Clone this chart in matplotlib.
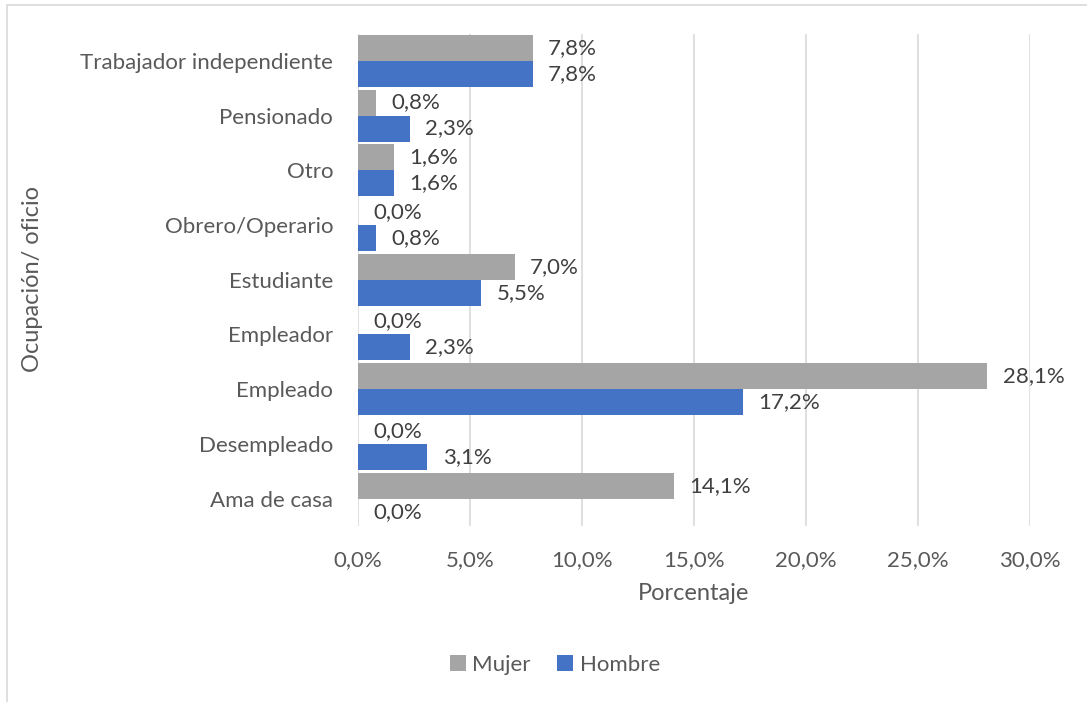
import matplotlib.pyplot as plt
import matplotlib.patches as mpatches
import numpy as np

categories = ['Ama de casa', 'Desempleado', 'Empleado', 'Empleador', 'Estudiante',
              'Obrero/Operario', 'Otro', 'Pensionado', 'Trabajador independiente']
mujer = [14.1, 0.0, 28.1, 0.0, 7.0, 0.0, 1.6, 0.8, 7.8]
hombre = [0.0, 3.1, 17.2, 2.3, 5.5, 0.8, 1.6, 2.3, 7.8]
xticks = [0, 5, 10, 15, 20, 25, 30]

plt.rcParams['font.family'] = ['Lato', 'DejaVu Sans']
text_col = '#595959'

W, H = 1087, 702
fig = plt.figure(figsize=(W / 100, H / 100), dpi=100)
ax = fig.add_axes([358 / W, 1 - 526 / H, (1030 - 358) / W, (526 - 33.5) / H])

y = np.arange(len(categories))
h = 0.475
ax.barh(y + h / 2, mujer, height=h, color='#A5A5A5', label='Mujer', zorder=3)
ax.barh(y - h / 2, hombre, height=h, color='#4472C4', label='Hombre', zorder=3)

# value labels
for i in range(len(categories)):
    ax.annotate(f'{mujer[i]:.1f}%'.replace('.', ','), (mujer[i], y[i] + h / 2),
                xytext=(11, 0), textcoords='offset points', va='center', ha='left',
                fontsize=16, color='#404040')
    ax.annotate(f'{hombre[i]:.1f}%'.replace('.', ','), (hombre[i], y[i] - h / 2),
                xytext=(11, 0), textcoords='offset points', va='center', ha='left',
                fontsize=16, color='#404040')

ax.set_xlim(0, 30)
ax.set_ylim(-0.5, len(categories) - 0.5)
ax.set_xticks(xticks)
ax.set_xticklabels([f'{t:.1f}%'.replace('.', ',') for t in xticks])
ax.set_yticks(y)
ax.set_yticklabels(categories)
ax.tick_params(length=0, labelsize=16, colors=text_col)
ax.tick_params(axis='x', pad=17)
ax.tick_params(axis='y', pad=18)
ax.grid(axis='x', color='#D9D9D9', linewidth=1.2, zorder=0)
for s in ax.spines.values():
    s.set_visible(False)

ax.set_xlabel('Porcentaje', fontsize=17, color=text_col, labelpad=10)
fig.text(33 / W, 1 - 279 / H, 'Ocupación/ oficio', rotation=90, fontsize=17,
         color=text_col, ha='center', va='center')

fig.legend(loc='center', bbox_to_anchor=(555 / W, 1 - 665 / H), ncol=2, frameon=False,
           fontsize=16, labelcolor=text_col, handlelength=0.7, handleheight=0.7,
           handletextpad=0.3, columnspacing=1.2)

# outer chart border (only top and left visible in the crop)
fig.add_artist(mpatches.Rectangle((7 / W, -0.1), 1.2, 1 - 4.5 / H + 0.1,
                                  transform=fig.transFigure, fill=False,
                                  edgecolor='#D9D9D9', linewidth=1.2))

fig.savefig('out.png', dpi=100)
